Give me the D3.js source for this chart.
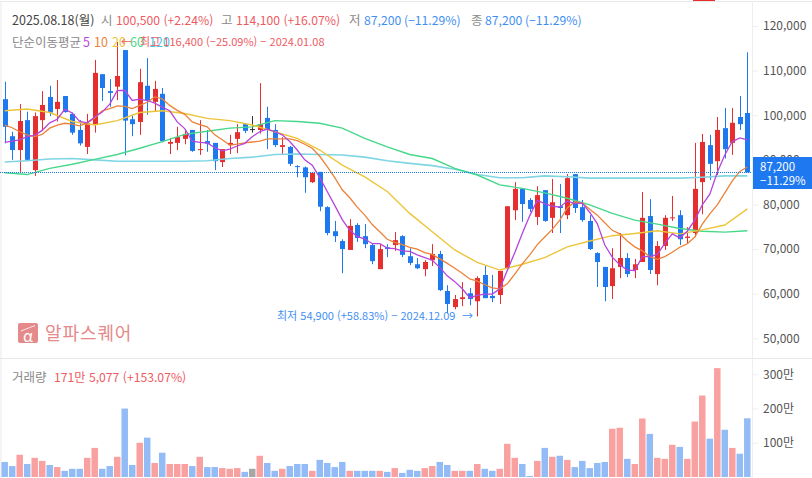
<!DOCTYPE html>
<html lang="ko">
<head>
<meta charset="UTF-8">
<title>일봉 차트</title>
<script src="https://d3js.org/d3.v7.min.js"></script>
<style>
    body { margin: 0; background: #fff; overflow: hidden; }
    svg { display: block; font-family: "Noto Sans CJK KR", "Noto Sans", sans-serif; }
    .axis text { fill: #555; font-size: 12px; font-family: "Noto Sans CJK KR", sans-serif; }
    .axis line { stroke: #eee; }
    .axis path { display: none; }
</style>
</head>
<body>
<svg id="chart" width="812" height="478"></svg>
<script>
// prices in thousands of won, one candle per day
const opens = [103.6,95.3,92.2,98.9,87.7,98.9,104.1,101.4,104.3,100.3,
    96.7,92.9,98.0,109.2,105.4,106.4,114.6,99.1,98.5,106.6,
    103.0,104.8,93.6,93.8,94.7,96.7,92.2,94.2,93.8,89.5,
    93.3,94.7,98.0,96.9,96.7,99.4,96.7,92.9,92.9,88.6,
    88.3,85.0,87.3,79.4,74.0,71.8,69.8,75.4,72.9,70.9,
    65.5,70.4,70.9,72.9,68.4,66.6,65.5,67.5,68.9,60.6,
    57.0,58.8,60.1,58.3,64.2,59.5,59.7,65.7,78.7,83.5,
    81.0,77.2,83.2,77.0,79.6,77.6,86.8,79.4,76.3,69.1,
    66.0,61.7,66.0,68.0,65.3,67.1,77.4,64.4,70.7,76.9,
    77.6,72.5,73.6,85.0,93.3,89.7,97.1,93.8,99.6,100.5];
const closes = [97.4,92.2,98.7,90.0,99.8,102.3,100.6,103.0,100.7,96.1,
    93.7,98.2,109.5,106.1,105.0,108.8,98.8,98.0,107.4,103.4,
    105.9,94.2,94.0,95.1,95.8,92.0,92.4,93.6,89.7,92.4,
    93.8,96.2,96.5,96.9,98.0,96.7,93.3,93.3,89.1,88.4,
    86.1,87.1,79.5,73.6,72.9,70.0,75.2,72.5,71.1,67.3,
    70.0,70.0,72.0,68.7,66.9,65.7,67.1,68.9,60.8,57.7,
    58.8,59.2,58.8,63.5,59.0,59.0,65.1,79.6,83.5,80.1,
    79.0,82.1,76.3,80.5,79.2,85.9,79.2,76.5,70.0,67.1,
    61.5,65.7,68.0,64.4,66.6,77.0,65.3,70.7,77.0,77.1,
    72.2,72.8,83.5,94.0,89.1,96.7,92.4,98.3,98.0,87.2];
const highs = [107.5,96.3,102.5,100.8,100.6,105.4,106.6,107.9,104.3,100.6,
    98.9,100.3,112.4,109.2,108.1,116.4,114.6,100.1,110.4,112.8,
    107.7,106.1,94.9,97.4,96.9,96.7,98.9,96.7,93.8,92.4,
    95.6,98.0,98.0,99.8,107.2,101.9,98.0,95.1,93.1,88.8,
    88.5,87.1,87.3,79.6,76.3,72.2,76.7,75.8,75.6,71.3,
    71.1,71.1,73.8,73.1,70.2,68.0,67.5,71.1,69.6,61.9,
    59.7,62.6,61.3,63.9,66.2,64.2,65.1,79.6,85.0,83.5,
    81.4,84.1,83.2,85.7,84.6,86.8,86.8,81.0,77.6,69.3,
    66.0,70.2,73.6,69.1,67.8,82.8,81.2,71.8,77.6,81.9,
    78.7,74.9,93.8,95.8,95.6,99.6,101.6,101.6,104.3,114.1];
const lows = [93.7,90.0,87.3,89.7,86.4,96.5,99.8,98.6,100.6,95.6,
    93.2,91.3,96.1,103.2,101.9,103.4,91.0,95.3,95.6,100.1,
    100.8,93.9,91.3,92.2,93.5,91.8,91.1,91.8,87.7,88.4,
    91.3,91.5,96.0,96.1,95.9,92.4,92.9,91.3,88.6,86.1,
    82.6,84.8,78.5,73.1,71.6,64.6,69.8,71.6,70.2,66.6,
    65.5,68.2,69.6,68.2,66.4,65.5,63.9,66.2,60.6,55.6,
    56.5,57.2,57.4,54.9,59.0,58.1,57.7,65.1,76.5,76.1,
    78.3,75.4,76.1,73.6,73.6,76.7,78.1,76.1,69.8,61.5,
    58.3,58.8,63.5,63.7,63.5,67.1,64.4,61.9,69.8,76.3,
    70.9,71.3,72.7,77.8,85.5,86.6,90.3,91.1,96.7,87.2];

// volume in units of 10,000 shares (만)
const volumes = [44,32,65,38,56,47,35,29,18,24,
    24,56,85,24,32,59,200,35,100,115,
    41,71,38,38,38,32,59,29,29,26,
    24,26,15,24,62,41,18,24,32,38,
    38,18,50,41,29,44,18,18,18,18,
    18,15,26,12,21,18,26,32,44,35,
    18,18,18,38,24,18,24,97,56,38,
    3,47,85,59,62,50,29,47,26,41,
    44,141,144,53,38,171,126,56,53,94,
    88,53,162,238,112,318,138,85,68,171.5];

// short moving averages, one value per candle
const ma5 = [93.9,94.2,94.5,95.2,95.5,96.6,98.3,99.1,101.3,100.5,
    98.6,98.3,99.6,100.7,102.5,105.5,105.6,103.3,103.6,103.3,
    102.7,101.8,101.0,98.5,97.0,94.2,93.9,93.8,92.7,92.0,
    92.4,93.1,93.7,95.2,96.3,96.9,96.3,95.6,94.1,92.2,
    90.0,88.8,86.0,82.9,79.8,76.6,74.2,72.8,72.3,71.2,
    71.2,70.2,70.1,69.6,69.5,68.7,68.1,67.5,65.9,64.0,
    62.7,61.1,59.1,59.6,59.9,59.9,61.1,65.2,69.2,73.5,
    77.5,80.9,80.2,79.6,79.4,80.8,80.2,80.3,78.2,75.7,
    70.9,68.2,66.5,65.3,65.2,68.3,68.3,68.8,71.3,73.4,
    72.5,74.0,76.5,79.9,82.3,87.2,91.1,94.1,94.9,94.5];
const ma10 = [97.8,97.2,96.3,95.6,95.2,95.7,97.1,97.8,98.2,98.0,
    97.6,98.3,99.4,101.0,101.5,102.1,102.0,101.5,102.2,102.9,
    104.1,103.7,102.2,101.1,100.2,98.5,97.9,97.4,95.6,94.5,
    93.3,93.5,93.8,94.0,94.2,94.7,94.7,94.7,94.7,94.3,
    93.5,92.6,90.8,88.5,86.0,83.3,81.5,79.4,77.6,75.5,
    73.9,72.2,71.5,71.0,70.4,70.0,69.2,68.8,67.8,66.8,
    65.7,64.6,63.3,62.8,62.0,61.3,61.1,62.2,64.4,66.7,
    68.7,71.0,72.7,74.4,76.5,79.2,80.6,80.3,78.9,77.6,
    75.9,74.2,73.4,71.8,70.5,69.6,68.3,67.7,68.3,69.3,
    70.4,71.2,72.7,75.6,77.9,79.9,82.6,85.3,87.4,88.4];

// long moving averages, read every third candle
const maDays = d3.range(0, 100, 3);
const ma20 = [101.0,101.4,100.6,98.6,97.8,98.8,100.6,101.0,100.4,99.3,98.8,97.8,96.3,94.8,92.2,88.8,86.2,
    82.9,78.0,73.9,69.8,67.0,65.3,66.6,68.1,70.5,71.8,73.0,73.5,74.1,73.4,74.3,75.4,79.0];
const ma60 = [87.1,86.7,88.1,89.0,90.1,91.2,92.6,94.1,95.7,96.4,97.1,97.4,98.8,98.6,98.2,97.1,94.8,
    92.9,91.2,90.3,88.1,86.6,84.4,83.6,82.6,81.4,79.9,78.0,76.5,75.6,74.6,74.0,73.8,74.1];
const ma120 = [89.5,89.8,90.2,90.3,90.0,89.7,89.7,89.7,89.7,89.8,90.3,90.6,91.2,91.3,91.2,91.1,90.6,
    89.8,89.2,88.7,87.9,86.7,86.0,86.0,86.4,86.2,85.9,85.9,85.9,85.9,85.9,86.1,86.4,86.4];

const priceTicks = [50,60,70,80,90,100,110,120];
const volumeTicks = [100,200,300];
const lastClose = 87.2;

const RED = "#e62e2e", BLUE = "#1e78f0", GRAY = "#333";
const TEXT_RED = "#ee5a5f", TEXT_BLUE = "#3f8ff2", TEXT_GRAY = "#8a8a8a";
const everyDay = d3.range(closes.length);
const maLines = [
    { days: maDays, values: ma120, color: "#7fd5e3", width: 1.6 },
    { days: maDays, values: ma60, color: "#46d88a", width: 1.4 },
    { days: maDays, values: ma20, color: "#ecc53a", width: 1.4 },
    { days: everyDay, values: ma10, color: "#ec8238", width: 1.3 },
    { days: everyDay, values: ma5, color: "#b545dc", width: 1.3 }
];

const svg = d3.select("#chart");

const x = d3.scaleLinear().domain([0, 99]).range([4.7, 747.3]);
const y = d3.scaleLinear().domain([50, 120]).range([338.3, 26]);
const yVol = d3.scaleLinear().domain([0, 300]).range([477, 374.3]);

// frame
svg.append("rect").attr("x", 693).attr("y", 0).attr("width", 22).attr("height", 1).attr("fill", RED);
svg.append("line").attr("x1", 0).attr("x2", 812).attr("y1", 1.5).attr("y2", 1.5).attr("stroke", "#e8e8e8");
svg.append("line").attr("x1", 1).attr("x2", 1).attr("y1", 1).attr("y2", 478).attr("stroke", "#e8e8e8");
svg.append("line").attr("x1", 0).attr("x2", 812).attr("y1", 358.5).attr("y2", 358.5).attr("stroke", "#e8e8e8");
svg.append("line").attr("x1", 752.5).attr("x2", 752.5).attr("y1", 1).attr("y2", 478).attr("stroke", "#eee");

// axes
const priceAxis = d3.axisRight(y).tickValues(priceTicks).tickSize(5).tickPadding(5)
    .tickFormat(d => d3.format(",")(d * 1000));
svg.append("g").attr("class", "axis").attr("transform", "translate(753,0)").call(priceAxis);
const volAxis = d3.axisRight(yVol).tickValues(volumeTicks).tickSize(5).tickPadding(5)
    .tickFormat(d => d + "만");
svg.append("g").attr("class", "axis").attr("transform", "translate(753,0)").call(volAxis);

// volume bars
const barColor = i => closes[i] > opens[i] ? "#f9a1a1" : closes[i] < opens[i] ? "#93bcf6" : "#a6a6a6";
svg.append("g").selectAll("rect")
    .data(volumes)
    .enter()
    .append("rect")
    .attr("x", (d, i) => x(i) - 3.25)
    .attr("width", 6.5)
    .attr("y", d => yVol(d))
    .attr("height", d => yVol(0) - yVol(d))
    .attr("fill", (d, i) => barColor(i));

// candles
const candleColor = i => closes[i] > opens[i] ? RED : closes[i] < opens[i] ? BLUE : GRAY;
const candles = svg.append("g").selectAll("g")
    .data(everyDay)
    .enter()
    .append("g");
candles.append("line")
    .attr("x1", i => Math.round(x(i)) + 0.5)
    .attr("x2", i => Math.round(x(i)) + 0.5)
    .attr("y1", i => y(highs[i]))
    .attr("y2", i => y(lows[i]))
    .attr("stroke", candleColor);
candles.append("rect")
    .attr("x", i => Math.round(x(i)) - 2)
    .attr("width", 5)
    .attr("y", i => y(Math.max(opens[i], closes[i])))
    .attr("height", i => Math.max(1, Math.abs(y(opens[i]) - y(closes[i]))))
    .attr("fill", candleColor);

// moving averages
svg.append("g").selectAll("path")
    .data(maLines)
    .enter()
    .append("path")
    .attr("d", d => d3.line().x((v, i) => x(d.days[i])).y(v => y(v))(d.values))
    .attr("fill", "none")
    .attr("stroke", d => d.color)
    .attr("stroke-width", d => d.width);

// last price line
const lastY = Math.round(y(lastClose)) + 0.5;
svg.append("line")
    .attr("x1", 0).attr("x2", 752)
    .attr("y1", lastY).attr("y2", lastY)
    .attr("stroke", "#1e78f0")
    .attr("stroke-width", 1)
    .attr("stroke-dasharray", "1,1");
svg.append("rect").attr("x", 753).attr("y", 157).attr("width", 59).attr("height", 32).attr("fill", BLUE);
svg.append("text").attr("x", 760).attr("y", 170.5).text("87,200").attr("fill", "#fff").attr("font-size", 11.5);
svg.append("text").attr("x", 760).attr("y", 184.5).text("−11.29%").attr("fill", "#fff").attr("font-size", 11.5);

// header and annotation texts
const labels = [
    ["2025.08.18(월)", 12, 25, "#444", 12.5],
    ["시", 101, 25, TEXT_GRAY, 12.5],
    ["100,500 (+2.24%)", 116, 25, TEXT_RED, 12.2],
    ["고", 221, 25, TEXT_GRAY, 12.5],
    ["114,100 (+16.07%)", 236, 25, TEXT_RED, 12.2],
    ["저", 349, 25, TEXT_GRAY, 12.5],
    ["87,200 (−11.29%)", 364, 25, TEXT_BLUE, 12.2],
    ["종", 471, 25, TEXT_GRAY, 12.5],
    ["87,200 (−11.29%)", 485, 25, TEXT_BLUE, 12.2],
    ["단순이동평균", 12, 47, TEXT_GRAY, 12.5],
    ["5", 83, 47, "#b545dc", 12.5],
    ["10", 94, 47, "#ec8238", 12.5],
    ["20", 112, 47, "#ecc53a", 12.5],
    ["60", 130, 47, "#46d88a", 12.5],
    ["120", 149, 47, "#4fc3dc", 12.5],
    ["←", 121, 46, TEXT_RED, 11],
    ["최고 116,400 (−25.09%) − 2024.01.08", 140, 46, TEXT_RED, 11],
    ["최저 54,900 (+58.83%) − 2024.12.09", 277, 320, TEXT_BLUE, 11],
    ["→", 462, 320, TEXT_BLUE, 11],
    ["거래량", 12, 382, TEXT_GRAY, 12.5],
    ["171만 5,077 (+153.07%)", 54, 382, TEXT_RED, 12.2]
];
svg.append("g").selectAll("text")
    .data(labels)
    .enter()
    .append("text")
    .attr("x", d => d[1])
    .attr("y", d => d[2])
    .attr("fill", d => d[3])
    .attr("font-size", d => d[4])
    .text(d => d[0]);

// watermark
svg.append("rect").attr("x", 18).attr("y", 323).attr("width", 20).attr("height", 20).attr("rx", 2).attr("fill", "#e58a8a");
svg.append("line").attr("x1", 21).attr("x2", 35).attr("y1", 331).attr("y2", 325.5).attr("stroke", "#fff").attr("stroke-width", 0.8);
svg.append("text").attr("x", 28).attr("y", 342).attr("text-anchor", "middle")
    .attr("fill", "#fff").attr("font-size", 16).text("α");
svg.append("text").attr("x", 45).attr("y", 339.5).attr("fill", "#e58a8a")
    .attr("font-size", 18).attr("letter-spacing", 0.9).text("알파스퀘어");
</script>
</body>
</html>
